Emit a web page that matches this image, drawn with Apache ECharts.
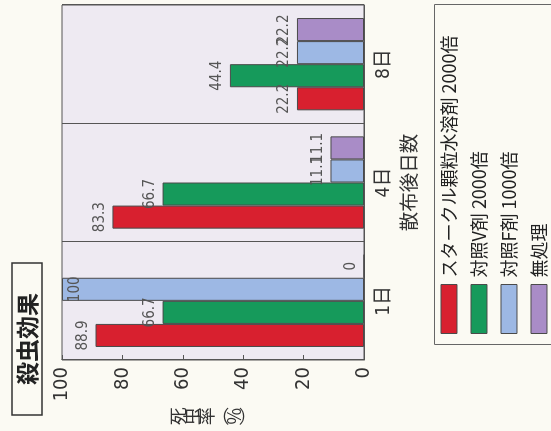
<!DOCTYPE html>
<html>
<head>
<meta charset="utf-8">
<script src="https://cdn.jsdelivr.net/npm/echarts@6/dist/echarts.min.js"></script>
<style>
  html, body { margin: 0; padding: 0; overflow: hidden; background: #fbfaf3; width: 551px; height: 431px; }
  /* The figure is laid out upright (431 x 551) and turned a quarter turn counter-clockwise. */
  #chart { position: absolute; left: 60px; top: -60px; width: 431px; height: 551px; transform: rotate(-90deg); transform-origin: 50% 50%; }
</style>
</head>
<body>
<div id="chart"></div>
<script>
const days = ['1日', '4日', '8日'];
const seriesNames = ['スタークル顆粒水溶剤 2000倍', '対照V剤 2000倍', '対照F剤 1000倍', '無処理'];
const starkle = [88.9, 83.3, 22.2];
const controlV = [66.7, 66.7, 44.4];
const controlF = [100, 11.1, 22.2];
const untreated = [0, 11.1, 22.2];
const valueTicks = [0, 20, 40, 60, 80, 100];

const colors = ['#d8202f', '#169a5b', '#9db8e4', '#a98cc7'];
const NUM_FONT = '"Liberation Sans Narrow", "DejaVu Sans Condensed", "Noto Sans CJK JP", sans-serif';
const JP_FONT = '"Noto Sans CJK JP", "Liberation Sans Narrow", sans-serif';

function makeSeries(name, values, color) {
  return {
    name: name,
    type: 'bar',
    barGap: '0%',
    barCategoryGap: '22%',
    itemStyle: { color: color, borderColor: '#4a4a4a', borderWidth: 1 },
    label: {
      show: true,
      position: 'top',
      distance: 5,
      fontFamily: NUM_FONT,
      fontSize: 15,
      color: '#555'
    },
    data: values.map(v => v >= 95
      ? { value: v, label: { position: 'insideTop', distance: 6 } }
      : v)
  };
}

// One legend row per series, stacked 30px apart inside the framed box.
const legends = seriesNames.map((name, i) => ({
  orient: 'vertical',
  left: 97,
  top: 440 + 30 * i,
  padding: 0,
  itemWidth: 49,
  itemHeight: 16,
  icon: 'rect',
  data: [name],
  itemStyle: { borderColor: '#4a4a4a', borderWidth: 1 },
  textStyle: { fontFamily: JP_FONT, fontSize: 18, color: '#222', padding: [0, 0, 0, 2] }
}));

const chart = echarts.init(document.getElementById('chart'));
chart.setOption({
  backgroundColor: '#fbfaf3',
  animation: false,
  title: {
    text: '殺虫効果',
    left: 16,
    top: 12,
    padding: [3, 30, 3, 30],
    borderColor: '#333',
    borderWidth: 1.5,
    textStyle: { fontFamily: JP_FONT, fontSize: 23, fontWeight: 'bold', color: '#222', lineHeight: 24 }
  },
  grid: {
    left: 71, right: 5, top: 62, bottom: 187,
    show: true,
    backgroundColor: '#eeeaf2',
    borderColor: '#555',
    borderWidth: 1
  },
  legend: legends,
  xAxis: {
    type: 'category',
    data: days,
    axisLine: { show: true, lineStyle: { color: '#555', width: 1 } },
    axisTick: { show: false },
    splitLine: { show: true, interval: 0, lineStyle: { color: '#555', width: 1 } },
    axisLabel: { fontFamily: NUM_FONT, fontSize: 19, color: '#333', margin: 11 },
    name: '散布後日数',
    nameLocation: 'middle',
    nameGap: 35,
    nameTextStyle: { fontFamily: JP_FONT, fontSize: 19.5, color: '#333' }
  },
  yAxis: {
    type: 'value',
    min: valueTicks[0],
    max: valueTicks[valueTicks.length - 1],
    interval: 20,
    axisLine: { show: true, lineStyle: { color: '#555', width: 1 } },
    axisTick: { show: true, inside: true, length: 5, lineStyle: { color: '#555' } },
    splitLine: { show: false },
    axisLabel: { fontFamily: NUM_FONT, fontSize: 20, color: '#333', margin: 7 },
    name: '死\n虫\n率\n︵\n%\n︶',
    nameLocation: 'middle',
    nameRotate: 0,
    nameGap: 37,
    nameTextStyle: { fontFamily: JP_FONT, fontSize: 18, lineHeight: 14, color: '#333', align: 'center', verticalAlign: 'middle' }
  },
  graphic: [
    {
      type: 'rect',
      left: 84,
      top: 432,
      shape: { width: 340, height: 130 },
      style: { fill: 'none', stroke: '#666', lineWidth: 1 },
      silent: true
    }
  ],
  series: [
    makeSeries(seriesNames[0], starkle, colors[0]),
    makeSeries(seriesNames[1], controlV, colors[1]),
    makeSeries(seriesNames[2], controlF, colors[2]),
    makeSeries(seriesNames[3], untreated, colors[3])
  ]
});
</script>
</body>
</html>
